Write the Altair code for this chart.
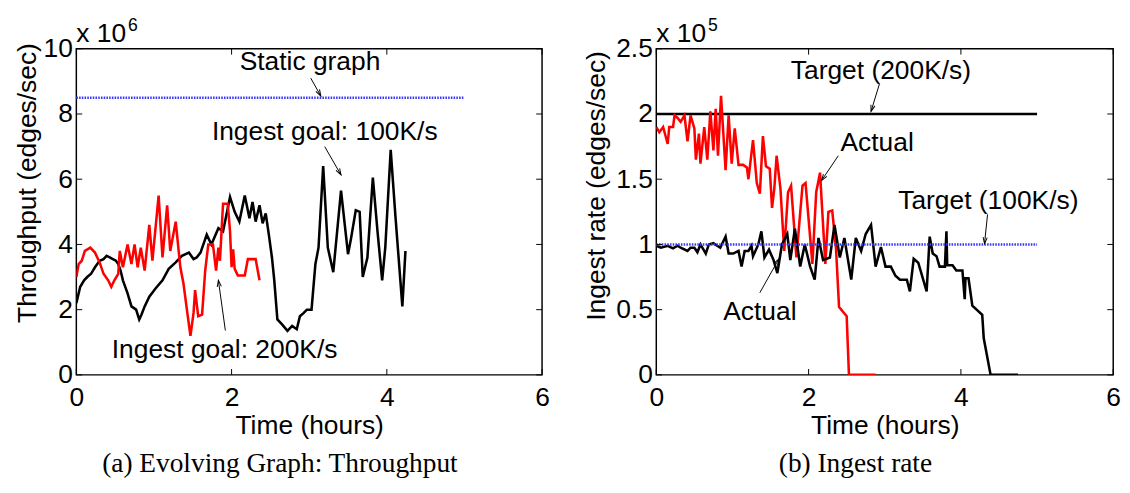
import math
import altair as alt
import pandas as pd

FONT = "Liberation Sans"
SERIF = "Liberation Serif"

# ---------------- Panel (a): throughput, x 10^6 edges/sec ----------------
a_static_t = [0.0, 5.0]
a_static_v = [8.5, 8.5]

a_goal100_t = [0.00, 0.05, 0.10, 0.14, 0.19, 0.24, 0.30, 0.35, 0.39, 0.43,
               0.47, 0.51, 0.54, 0.57, 0.60, 0.66, 0.71, 0.77, 0.81, 0.84,
               0.88, 0.94, 1.02, 1.11, 1.19, 1.28, 1.36, 1.45, 1.51, 1.55,
               1.60, 1.68, 1.74, 1.83, 1.89, 1.98, 2.04, 2.10, 2.17, 2.23,
               2.27, 2.31, 2.36, 2.40, 2.44, 2.48, 2.52, 2.55, 2.59, 2.65,
               2.72, 2.78, 2.84, 2.88, 2.93, 2.97, 3.03, 3.08, 3.12, 3.18,
               3.24, 3.31, 3.41, 3.50, 3.54, 3.60, 3.65, 3.69, 3.75, 3.82,
               3.88, 3.94, 3.98, 4.05, 4.11, 4.20, 4.24]
a_goal100_v = [2.2, 2.7, 2.9, 3.0, 3.1, 3.3, 3.5, 3.55, 3.65, 3.6,
               3.55, 3.5, 3.4, 3.2, 2.9, 2.5, 2.1, 2.0, 1.7, 1.85,
               2.1, 2.4, 2.65, 2.9, 3.25, 3.45, 3.65, 3.75, 3.55, 3.6,
               3.75, 4.3, 4.0, 4.5, 4.4, 5.45, 5.0, 4.7, 5.5, 4.8,
               5.3, 4.7, 5.2, 4.65, 4.95, 4.3, 3.6, 2.9, 1.7, 1.55,
               1.35, 1.5, 1.4, 1.8, 1.9, 2.0, 2.0, 3.4, 3.9, 6.4,
               3.9, 3.15, 5.65, 3.7, 4.2, 5.05, 5.0, 3.0, 3.6, 6.05,
               4.4, 2.9, 3.9, 6.9, 4.9, 2.1, 3.8]

a_goal200_t = [0.00, 0.03, 0.07, 0.11, 0.18, 0.24, 0.30, 0.35, 0.41, 0.45,
               0.49, 0.54, 0.56, 0.60, 0.66, 0.71, 0.75, 0.79, 0.83, 0.88,
               0.94, 0.98, 1.06, 1.11, 1.17, 1.21, 1.28, 1.34, 1.38, 1.43,
               1.47, 1.51, 1.53, 1.57, 1.62, 1.66, 1.70, 1.76, 1.80, 1.83,
               1.85, 1.89, 1.95, 1.98, 2.00, 2.02, 2.04, 2.08, 2.17, 2.21,
               2.31, 2.36]
a_goal200_v = [3.0, 3.4, 3.5, 3.8, 3.9, 3.75, 3.45, 3.1, 2.9, 2.7,
               2.9, 3.1, 3.8, 3.3, 4.0, 3.4, 4.0, 3.3, 3.9, 3.2,
               4.6, 3.5, 5.5, 3.6, 5.2, 3.8, 4.7, 3.3, 2.8, 1.9,
               1.2, 1.9, 2.6, 1.8, 1.85, 3.2, 4.0, 4.0, 3.2, 3.9,
               3.5, 5.25, 5.25, 4.4, 3.3, 3.85, 3.25, 3.05, 3.05, 3.55,
               3.55, 2.9]

# ---------------- Panel (b): ingest rate, x 10^5 edges/sec ----------------
b_target200_t = [0.0, 5.0]
b_target200_v = [2.0, 2.0]
b_target100_t = [0.0, 5.0]
b_target100_v = [1.0, 1.0]

b_actual200_t = [0.00, 0.04, 0.09, 0.15, 0.17, 0.22, 0.24, 0.28, 0.32, 0.37,
                 0.41, 0.45, 0.50, 0.52, 0.56, 0.58, 0.63, 0.67, 0.71, 0.75,
                 0.78, 0.81, 0.85, 0.91, 0.95, 0.99, 1.03, 1.08, 1.14, 1.19,
                 1.21, 1.27, 1.32, 1.36, 1.40, 1.44, 1.49, 1.52, 1.55, 1.58,
                 1.63, 1.68, 1.73, 1.77, 1.84, 1.92, 1.96, 2.05, 2.10, 2.15,
                 2.22, 2.26, 2.31, 2.36, 2.40, 2.50, 2.53, 2.88]
b_actual200_v = [1.90, 1.86, 1.90, 1.77, 1.90, 1.90, 1.99, 1.97, 1.94, 1.99,
                 1.79, 1.99, 1.89, 1.65, 1.85, 1.62, 1.90, 1.65, 2.02, 1.72,
                 2.04, 1.68, 2.14, 1.57, 1.99, 1.62, 1.89, 1.61, 1.61, 1.59,
                 1.50, 1.80, 1.47, 1.39, 1.83, 1.60, 1.58, 1.28, 1.43, 1.68,
                 1.43, 0.95, 1.40, 1.45, 0.90, 1.45, 1.47, 0.85, 1.40, 1.55,
                 0.85, 1.25, 1.26, 0.97, 0.52, 0.45, 0.0, 0.0]

b_actual100_t = [0.00, 0.06, 0.15, 0.22, 0.28, 0.32, 0.41, 0.45, 0.50, 0.54,
                 0.58, 0.65, 0.69, 0.75, 0.80, 0.84, 0.91, 0.95, 1.01, 1.08,
                 1.12, 1.16, 1.21, 1.25, 1.27, 1.34, 1.38, 1.42, 1.48, 1.54,
                 1.59, 1.65, 1.72, 1.76, 1.82, 1.89, 1.95, 2.02, 2.08, 2.13,
                 2.19, 2.28, 2.34, 2.41, 2.47, 2.56, 2.62, 2.69, 2.75, 2.82,
                 2.88, 2.95, 3.01, 3.08, 3.14, 3.20, 3.29, 3.33, 3.38, 3.44,
                 3.55, 3.59, 3.63, 3.68, 3.72, 3.79, 3.81, 3.82, 3.89, 3.94,
                 4.02, 4.05, 4.06, 4.10, 4.15, 4.28, 4.30, 4.39, 4.75]
b_actual100_v = [0.99, 0.975, 0.99, 0.97, 0.99, 0.975, 0.95, 0.975, 0.975, 0.94,
                 1.0, 0.93, 1.0, 1.01, 0.99, 0.975, 1.06, 0.93, 0.93, 0.95,
                 0.83, 0.95, 0.95, 0.99, 0.91, 1.0, 1.10, 0.90, 0.96, 0.88,
                 0.78, 1.0, 1.08, 0.88, 1.12, 0.83, 1.0, 0.83, 0.73, 1.05,
                 0.88, 0.90, 1.15, 0.90, 1.05, 0.73, 1.05, 0.95, 1.08, 1.15,
                 0.83, 0.98, 0.83, 0.83, 0.76, 0.73, 0.73, 0.64, 0.89, 0.86,
                 0.64, 1.06, 0.93, 0.91, 0.83, 0.83, 1.10, 0.84, 0.84, 0.80,
                 0.80, 0.58, 0.74, 0.74, 0.53, 0.46, 0.28, 0.0, 0.0]

# ---------------- ticks ----------------
x_ticks = [0, 2, 4, 6]
a_y_ticks = [0, 2, 4, 6, 8, 10]
b_y_ticks = [0, 0.5, 1, 1.5, 2, 2.5]

# ---------------- annotations ----------------
a_labels = ["Static graph", "Ingest goal: 100K/s", "Ingest goal: 200K/s"]
a_label_t = [3.01, 3.20, 1.91]
a_label_v = [9.6, 7.44, 0.77]
a_arrows = [(3.02, 9.10, 3.15, 8.55), (3.20, 7.00, 3.41, 6.13), (1.92, 1.36, 1.83, 2.90)]

b_labels = ["Target (200K/s)", "Actual", "Target (100K/s)", "Actual"]
b_label_t = [2.95, 2.90, 4.36, 1.36]
b_label_v = [2.33, 1.78, 1.33, 0.48]
b_arrows = [(2.93, 2.23, 2.82, 2.02), (2.39, 1.68, 2.17, 1.49),
            (4.35, 1.23, 4.31, 1.005), (1.36, 0.63, 1.61, 0.89)]

H = 334
W_A = 477
W_B = 468
FS = 27


def series_df(items):
    rows = []
    for name, ts, vs in items:
        for i, (t, v) in enumerate(zip(ts, vs)):
            rows.append({"series": name, "i": i, "t": t, "v": v})
    return pd.DataFrame(rows)


def panel(W, ymax, yticks, ytitle, title_x, title_y, solid, solid_colors,
          dotted, exp_base, exp_pow, labels, label_t, label_v, arrows, caption):
    xs = alt.Scale(domain=[0, 6], nice=False, zero=False)
    ys = alt.Scale(domain=[0, ymax], nice=False, zero=False)
    x_axis = alt.Axis(
        values=x_ticks, title="Time (hours)", format=".2~f", labelFlush=False,
        labelOverlap=False, ticks=False, domain=False, grid=False,
        labelPadding=10, titlePadding=3)
    y_axis = alt.Axis(
        values=yticks, title=ytitle, format=".2~f", ticks=False, domain=False,
        grid=False, labelPadding=4, labelOverlap=False, titleX=title_x,
        titleY=title_y, titleAlign="center", titleBaseline="middle",
        titleAngle=270)

    def X(f):
        return alt.X(f, scale=xs, axis=x_axis)

    def Y(f):
        return alt.Y(f, scale=ys, axis=y_axis)

    sdf = series_df(solid)
    names = [s[0] for s in solid]
    lines = alt.Chart(sdf).mark_line(strokeWidth=2.6, clip=True).encode(
        x=X("t:Q"), y=Y("v:Q"),
        color=alt.Color("series:N", scale=alt.Scale(domain=names, range=solid_colors), legend=None),
        detail="series:N",
        order="i:Q",
    )

    ddf = series_df(dotted)
    dots = alt.Chart(ddf).mark_line(strokeWidth=2.6, color="#3a3aff",
                                    strokeDash=[1.6, 1.2]).encode(
        x=X("t:Q"), y=Y("v:Q"), detail="series:N")

    xt = pd.DataFrame({"t": x_ticks})
    yt = pd.DataFrame({"v": yticks})
    tb = alt.Chart(xt).mark_rule(color="black", strokeWidth=1).encode(
        x=X("t:Q"), y=alt.value(H), y2=alt.value(H - 6))
    tt = alt.Chart(xt).mark_rule(color="black", strokeWidth=1).encode(
        x=X("t:Q"), y=alt.value(0), y2=alt.value(6))
    tl = alt.Chart(yt).mark_rule(color="black", strokeWidth=1).encode(
        y=Y("v:Q"), x=alt.value(0), x2=alt.value(6))
    tr = alt.Chart(yt).mark_rule(color="black", strokeWidth=1).encode(
        y=Y("v:Q"), x=alt.value(W - 6), x2=alt.value(W))

    edf = pd.DataFrame({"txt": [exp_base], "t": [0], "v": [ymax]})
    e1 = alt.Chart(edf).mark_text(align="left", baseline="bottom", dy=-1,
                                  fontSize=FS, font=FONT, color="black").encode(
        x=X("t:Q"), y=Y("v:Q"), text="txt:N")
    pdf = pd.DataFrame({"txt": [exp_pow], "t": [0], "v": [ymax]})
    e2 = alt.Chart(pdf).mark_text(align="left", baseline="bottom", dx=53, dy=-14,
                                  fontSize=18, font=FONT, color="black").encode(
        x=X("t:Q"), y=Y("v:Q"), text="txt:N")

    ldf = pd.DataFrame({"txt": labels, "t": label_t, "v": label_v})
    lab = alt.Chart(ldf).mark_text(align="center", baseline="middle", fontSize=FS,
                                   font=FONT, color="black").encode(
        x=X("t:Q"), y=Y("v:Q"), text="txt:N")

    pxh = W / 6.0
    pxv = H / ymax
    arows = []
    for (t1, v1, t2, v2) in arrows:
        dx = (t2 - t1) * pxh
        dy = -(v2 - v1) * pxv
        ang = math.degrees(math.atan2(dx, -dy)) % 360
        arows.append({"t": t1, "v": v1, "t2": t2, "v2": v2, "ang": ang})
    adf = pd.DataFrame(arows)
    ar = alt.Chart(adf).mark_rule(color="black", strokeWidth=1).encode(
        x=X("t:Q"), y=Y("v:Q"), x2="t2:Q", y2="v2:Q")
    ah = alt.Chart(adf).mark_point(shape="M-0.55,1.7L0,0L0.55,1.7", size=60,
                                   color="black", strokeWidth=1, filled=False,
                                   opacity=1).encode(
        x=X("t2:Q"), y=Y("v2:Q"),
        angle=alt.Angle("ang:Q", scale=None))

    return alt.layer(lines, dots, tb, tt, tl, tr, e1, e2, lab, ar, ah).properties(
        width=W, height=H,
        title=alt.TitleParams(caption, orient="bottom", font=SERIF, fontSize=28,
                              fontWeight="normal", color="black", dx=-30, offset=12,
                              anchor="middle"))


pa = panel(W_A, 10, a_y_ticks, "Throughput (edges/sec)", -50, 137,
           [("goal100", a_goal100_t, a_goal100_v), ("goal200", a_goal200_t, a_goal200_v)],
           ["black", "#ff0000"],
           [("static", a_static_t, a_static_v)],
           "x 10", "6", a_labels, a_label_t, a_label_v, a_arrows,
           "(a)  Evolving Graph: Throughput")

pb = panel(W_B, 2.5, b_y_ticks, "Ingest rate (edges/sec)", -61, 140,
           [("target200", b_target200_t, b_target200_v),
            ("actual200", b_actual200_t, b_actual200_v),
            ("actual100", b_actual100_t, b_actual100_v)],
           ["black", "#ff0000", "black"],
           [("target100", b_target100_t, b_target100_v)],
           "x 10", "5", b_labels, b_label_t, b_label_v, b_arrows,
           "(b)  Ingest rate")

chart = alt.hconcat(pa, pb, spacing=32).properties(
    padding={"left": 5, "top": 3, "right": 0, "bottom": 0}
).configure_view(
    stroke="black", strokeWidth=1.5
).configure_axis(
    labelFont=FONT, titleFont=FONT, labelFontSize=FS, titleFontSize=FS,
    labelColor="black", titleColor="black", titleFontWeight="normal"
)

chart.save("out.html", embed_options={"renderer": "svg", "actions": False})
